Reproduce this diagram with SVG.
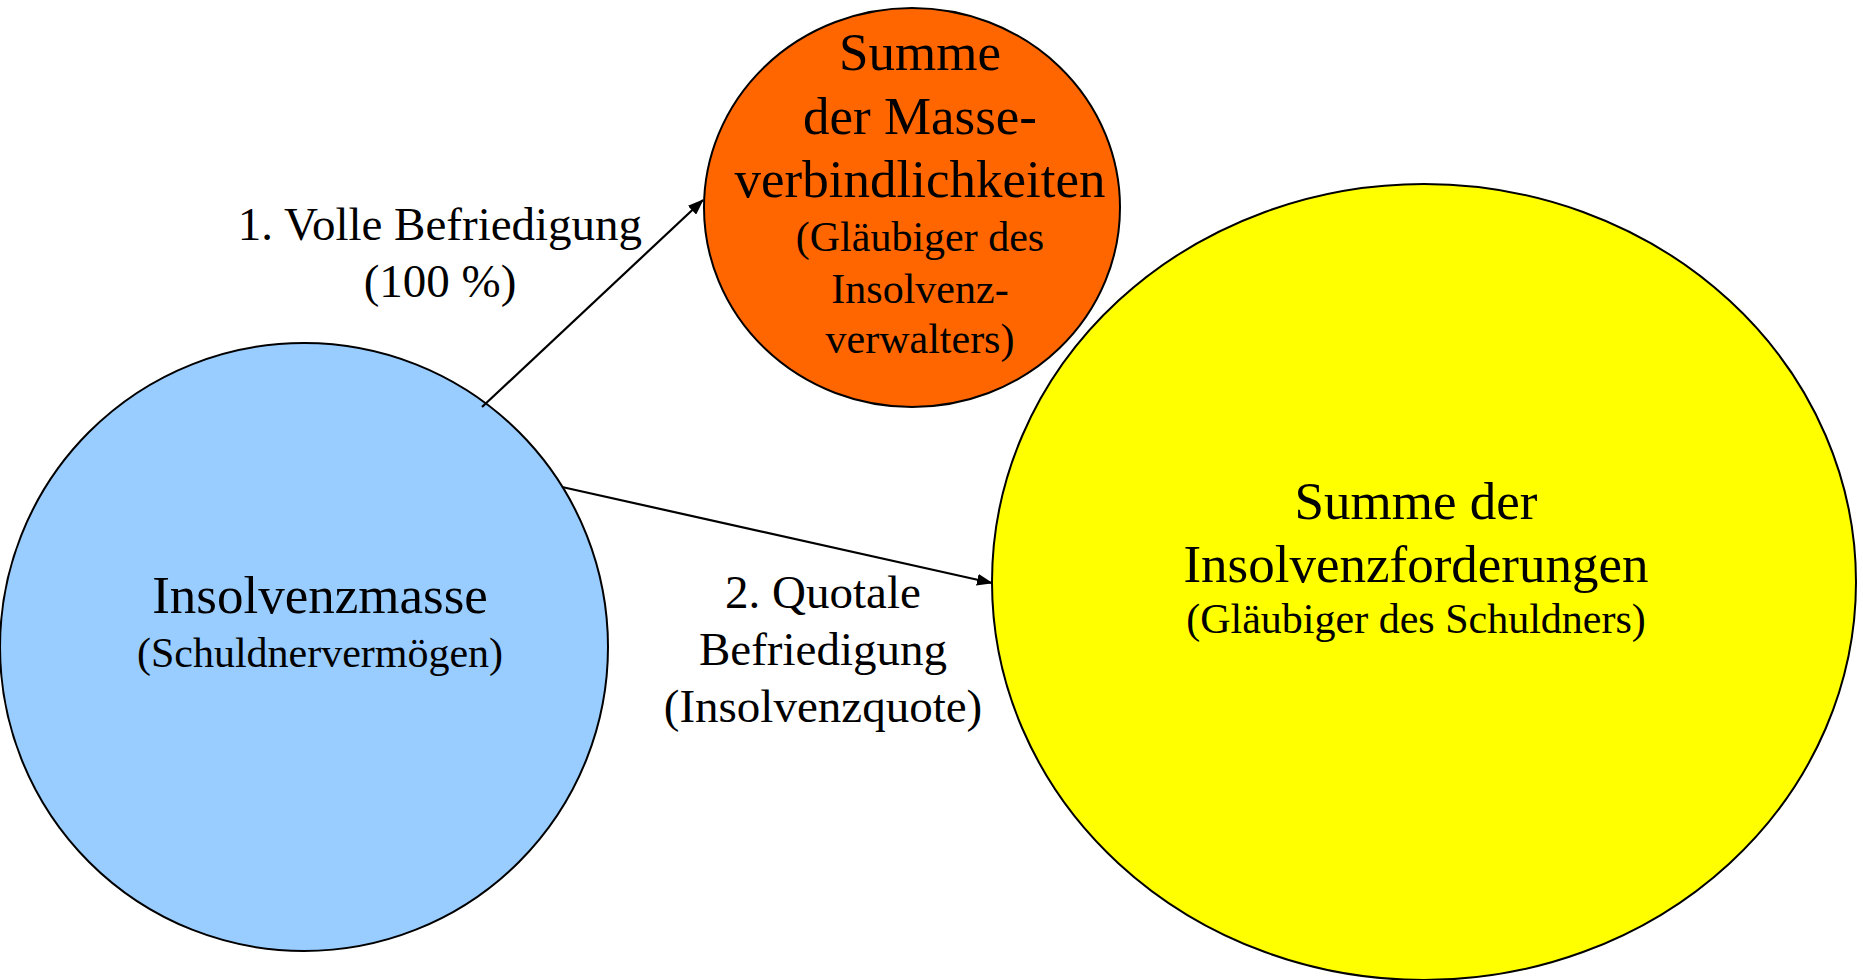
<svg xmlns="http://www.w3.org/2000/svg" width="1863" height="980" viewBox="0 0 1863 980">
<style>
.node{stroke:#000;stroke-width:2}
.t{font-family:"Liberation Serif","Times New Roman",serif;fill:#000;text-anchor:middle}
.big{font-size:53px}
.mid{font-size:47px}
.sub{font-size:42px}
.conn{stroke:#000;stroke-width:2.2;fill:none}
</style>
<defs>
<marker id="ah" markerUnits="userSpaceOnUse" markerWidth="16" markerHeight="12" refX="15" refY="6" orient="auto" viewBox="0 0 16 12">
<path d="M0,0 L16,6 L0,12 z" fill="#000"/>
</marker>
</defs>
<rect width="1863" height="980" fill="#fff"/>
<g id="insolvenzmasse">
<ellipse class="node" cx="304" cy="647" rx="304" ry="304" fill="#99CCFF"/>
<text class="t big" x="320" y="613">Insolvenzmasse</text>
<text class="t sub" x="320" y="667">(Schuldnervermögen)</text>
</g>
<g id="masseverbindlichkeiten">
<ellipse class="node" cx="912" cy="207.5" rx="208" ry="199.5" fill="#FF6600"/>
<text class="t big" x="920" y="70">Summe</text>
<text class="t big" x="920" y="134">der Masse-</text>
<text class="t big" x="920" y="197">verbindlichkeiten</text>
<text class="t sub" x="920" y="251">(Gläubiger des</text>
<text class="t sub" x="920" y="303">Insolvenz-</text>
<text class="t sub" x="920" y="353">verwalters)</text>
</g>
<g id="insolvenzforderungen">
<ellipse class="node" cx="1424" cy="582" rx="432" ry="398" fill="#FFFF00"/>
<text class="t big" x="1416" y="519">Summe der</text>
<text class="t big" x="1416" y="582">Insolvenzforderungen</text>
<text class="t sub" x="1416" y="633">(Gläubiger des Schuldners)</text>
</g>
<g id="connectors">
<line class="conn" x1="482" y1="407" x2="703" y2="200" marker-end="url(#ah)"/>
<line class="conn" x1="562" y1="487" x2="992" y2="583" marker-end="url(#ah)"/>
<text class="t mid" x="440" y="240">1. Volle Befriedigung</text>
<text class="t mid" x="440" y="297">(100 %)</text>
<text class="t mid" x="823" y="608">2. Quotale</text>
<text class="t mid" x="823" y="665">Befriedigung</text>
<text class="t mid" x="823" y="722">(Insolvenzquote)</text>
</g>
</svg>
